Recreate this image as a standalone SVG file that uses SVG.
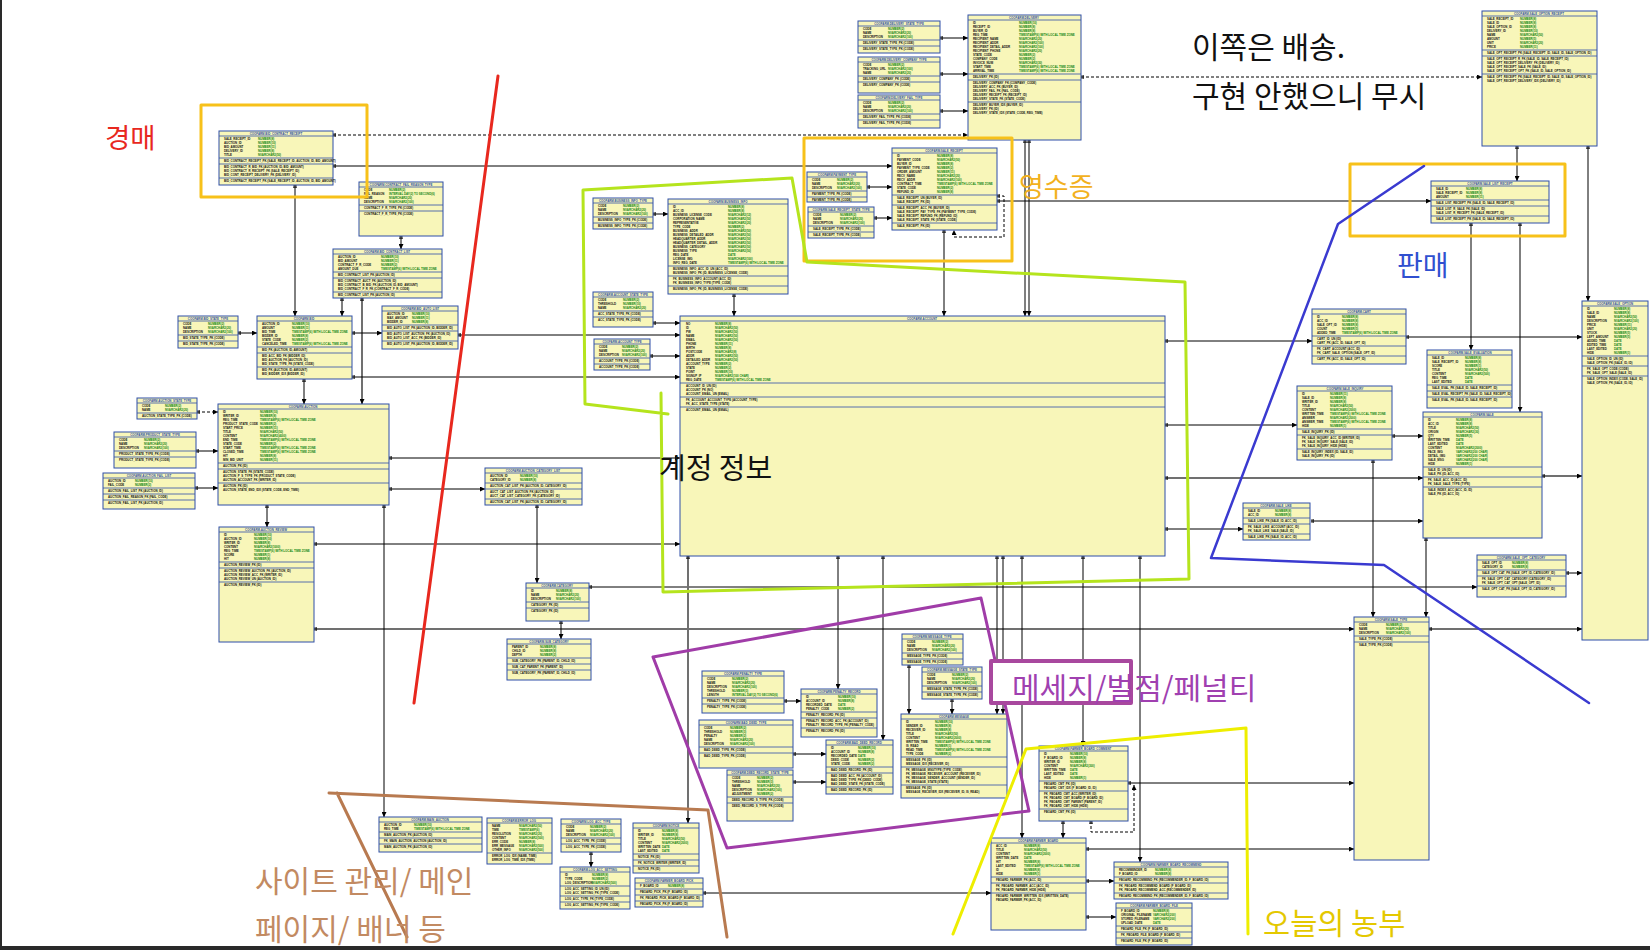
<svg xmlns="http://www.w3.org/2000/svg" width="1650" height="950" viewBox="0 0 1650 950">
<defs>
<style>
.t{fill:#f8f6b9;stroke:#2f4fa8;stroke-width:1}
.s{stroke:#2f4fa8;stroke-width:.8;fill:none}
.h,.c,.y{font-family:"Liberation Sans",Arial,sans-serif;font-size:2.9px;font-weight:bold}
.h{fill:#2f4fa8;text-anchor:middle}
.c{fill:#111}
.y{fill:#138513}
.k{stroke:#000;stroke-width:1;fill:none;marker-end:url(#a);marker-start:url(#b)}
.g{stroke:#707070;stroke-width:2;fill:none;marker-end:url(#a);marker-start:url(#b)}
.d{stroke:#000;stroke-width:1;fill:none;stroke-dasharray:3 2;marker-end:url(#a);marker-start:url(#b)}
.lab{font-family:"Noto Sans CJK KR","Noto Sans",sans-serif}
</style>
<marker id="a" viewBox="0 0 6 6" refX="6" refY="3" markerWidth="5" markerHeight="5" markerUnits="userSpaceOnUse" orient="auto"><path d="M0,0L6,3L0,6z" fill="#000"/></marker>
<marker id="b" viewBox="0 0 6 6" refX="0" refY="3" markerWidth="4" markerHeight="4" markerUnits="userSpaceOnUse" orient="auto"><path d="M1.5,0V6M3.5,0V6" stroke="#000" stroke-width="1.2"/></marker>
</defs>
<rect width="1650" height="950" fill="#fff"/>

<g id="connectors">
<path class="d" d="M333 135H968"/>
<path class="k" d="M333 166H892"/>
<path class="k" d="M295 185V316"/>
<path class="k" d="M401 236V249"/>
<path class="k" d="M342 298V316"/>
<path class="g" d="M362 298V404"/>
<path class="k" d="M304 379V404"/>
<path class="k" d="M238 333H257"/>
<path class="k" d="M352 333H382"/>
<path class="k" d="M458 335H680"/>
<path class="k" d="M352 377H680"/>
<path class="k" d="M653 323H680"/>
<path class="k" d="M650 356H680"/>
<path class="k" d="M389 458H680"/>
<path class="k" d="M314 544H680"/>
<path class="k" d="M734 294V316"/>
<path class="k" d="M653 214H668"/>
<path class="k" d="M867 187H892"/>
<path class="k" d="M874 218H892"/>
<path class="k" d="M944 230V316"/>
<path class="k" d="M1025 140V316"/>
<path class="k" d="M1029 140V316"/>
<path class="k" d="M940 38H968"/>
<path class="k" d="M940 74H968"/>
<path class="k" d="M940 111H968"/>
<path class="d" d="M1081 77H1482"/>
<path class="k" d="M997 201H1431"/>
<path class="d" d="M997 196H1004V237H954V230"/>
<path class="k" d="M1165 341H1312"/>
<path class="k" d="M1406 337H1582"/>
<path class="k" d="M1165 425H1297"/>
<path class="g" d="M1165 478H1423"/>
<path class="g" d="M1542 476H1582"/>
<path class="k" d="M1165 529H1243"/>
<path class="k" d="M1311 521H1423"/>
<path class="k" d="M1392 436H1423"/>
<path class="k" d="M1471 223V350"/>
<path class="k" d="M1517 146V181"/>
<path class="k" d="M1520 223V412"/>
<path class="k" d="M1588 146V301"/>
<path class="k" d="M1373 460V617"/>
<path class="k" d="M1426 538V617"/>
<path class="k" d="M1566 573H1582"/>
<path class="g" d="M314 629H1354"/>
<path class="g" d="M1429 629H1582"/>
<path class="k" d="M589 587H1477"/>
<path class="g" d="M688 556V823"/>
<path class="k" d="M838 556V689"/>
<path class="k" d="M883 556V740"/>
<path class="k" d="M997 556V714"/>
<path class="k" d="M1003 556V714"/>
<path class="k" d="M1022 556V838"/>
<path class="k" d="M1083 556V746"/>
<path class="k" d="M1140 556V862"/>
<path class="k" d="M1063 821V838"/>
<path class="d" d="M1091 821V832H1134V785"/>
<path class="k" d="M1128 783H1354"/>
<path class="k" d="M1086 849H1354"/>
<path class="k" d="M1086 881H1114"/>
<path class="k" d="M1086 917H1116"/>
<path class="k" d="M703 893H991"/>
<path class="k" d="M591 852V867"/>
<path class="k" d="M909 665V714"/>
<path class="k" d="M952 699V714"/>
<path class="k" d="M784 701H801"/>
<path class="k" d="M793 754H826"/>
<path class="k" d="M793 782H826"/>
<path class="k" d="M384 505V817"/>
<path class="k" d="M267 505V527"/>
<path class="d" d="M197 412H218"/>
<path class="k" d="M196 451H218"/>
<path class="k" d="M195 488H218"/>
<path class="k" d="M389 489H485"/>
<path class="k" d="M537 505V583"/>
<path class="k" d="M561 621V639"/>
</g>

<g id="t-bid-contract-receipt">
<rect class="t" x="219" y="131" width="114" height="54"/>
<path class="s" d="M219 136h114M219 158h114M219 164h114M219 178h114"/>
<text class="h" x="276" y="135">COOFARM.BID_CONTRACT_RECEIPT</text>
<text class="c" x="224" y="140">SALE_RECEIPT_ID<tspan x="224" dy="4">AUCTION_ID</tspan><tspan x="224" dy="4">BID_AMOUNT</tspan><tspan x="224" dy="4">DELIVERY_ID</tspan><tspan x="224" dy="4">TITLE</tspan></text>
<text class="y" x="258" y="140">NUMBER(8)<tspan x="258" dy="4">NUMBER(10)</tspan><tspan x="258" dy="4">NUMBER(11)</tspan><tspan x="258" dy="4">NUMBER(8)</tspan><tspan x="258" dy="4">NVARCHAR2(50)</tspan></text>
<text class="c" x="224" y="162">BID_CONTRACT_RECEIPT_PK (SALE_RECEIPT_ID, AUCTION_ID, BID_AMOUNT)</text>
<text class="c" x="224" y="168">BID_CONTRACT_R_BID_FK (AUCTION_ID, BID_AMOUNT)<tspan x="224" dy="4">BID_CONTRACT_R_RECEIPT_FK (SALE_RECEIPT_ID)</tspan><tspan x="224" dy="4">BID_CONT_RECEIPT_DELIVERY_FK (DELIVERY_ID)</tspan></text>
<text class="c" x="224" y="182">BID_CONTRACT_RECEIPT_PK (SALE_RECEIPT_ID, AUCTION_ID, BID_AMOUNT)</text>
</g>

<g id="t-contract-fail-reason-type">
<rect class="t" x="359" y="182" width="84" height="54"/>
<path class="s" d="M359 187h84M359 205h84M359 211h84"/>
<text class="h" x="401" y="186">COOFARM.CONTRACT_FAIL_REASON_TYPE</text>
<text class="c" x="364" y="191">CODE<tspan x="364" dy="4">FAIL_REASON</tspan><tspan x="364" dy="4">NAME</tspan><tspan x="364" dy="4">DESCRIPTION</tspan></text>
<text class="y" x="389" y="191">NUMBER(2)<tspan x="389" dy="4">INTERVAL DAY(2) TO SECOND(6)</tspan><tspan x="389" dy="4">NVARCHAR2(20)</tspan><tspan x="389" dy="4">NVARCHAR2(100)</tspan></text>
<text class="c" x="364" y="209">CONTRACT_F_R_TYPE_PK (CODE)</text>
<text class="c" x="364" y="215">CONTRACT_F_R_TYPE_PK (CODE)</text>
</g>

<g id="t-bid-contract-list">
<rect class="t" x="333" y="249" width="109" height="49"/>
<path class="s" d="M333 254h109M333 272h109M333 278h109M333 292h109"/>
<text class="h" x="387" y="253">COOFARM.BID_CONTRACT_LIST</text>
<text class="c" x="338" y="258">AUCTION_ID<tspan x="338" dy="4">BID_AMOUNT</tspan><tspan x="338" dy="4">CONTRACT_F_R_CODE</tspan><tspan x="338" dy="4">AMOUNT_DUE</tspan></text>
<text class="y" x="381" y="258">NUMBER(10)<tspan x="381" dy="4">NUMBER(11)</tspan><tspan x="381" dy="4">NUMBER(2)</tspan><tspan x="381" dy="4">TIMESTAMP(6) WITH LOCAL TIME ZONE</tspan></text>
<text class="c" x="338" y="276">BID_CONTRACT_LIST_PK (AUCTION_ID)</text>
<text class="c" x="338" y="282">BID_CONTRACT_AUCT_FK (AUCTION_ID)<tspan x="338" dy="4">BID_CONTRACT_B_BID_FK (AUCTION_ID, BID_AMOUNT)</tspan><tspan x="338" dy="4">BID_CONTRACT_F_R_FK (CONTRACT_F_R_CODE)</tspan></text>
<text class="c" x="338" y="296">BID_CONTRACT_LIST_PK (AUCTION_ID)</text>
</g>

<g id="t-bid-state-type">
<rect class="t" x="178" y="316" width="60" height="32"/>
<path class="s" d="M178 321h60M178 335h60M178 341h60"/>
<text class="h" x="208" y="320">COOFARM.BID_STATE_TYPE</text>
<text class="c" x="183" y="325">CODE<tspan x="183" dy="4">NAME</tspan><tspan x="183" dy="4">DESCRIPTION</tspan></text>
<text class="y" x="208" y="325">NUMBER(2)<tspan x="208" dy="4">NVARCHAR2(20)</tspan><tspan x="208" dy="4">NVARCHAR2(100)</tspan></text>
<text class="c" x="183" y="339">BID_STATE_TYPE_PK (CODE)</text>
<text class="c" x="183" y="345">BID_STATE_TYPE_PK (CODE)</text>
</g>

<g id="t-bid">
<rect class="t" x="257" y="316" width="95" height="63"/>
<path class="s" d="M257 321h95M257 347h95M257 353h95M257 367h95"/>
<text class="h" x="304" y="320">COOFARM.BID</text>
<text class="c" x="262" y="325">AUCTION_ID<tspan x="262" dy="4">AMOUNT</tspan><tspan x="262" dy="4">BID_TIME</tspan><tspan x="262" dy="4">BIDDER_ID</tspan><tspan x="262" dy="4">STATE_CODE</tspan><tspan x="262" dy="4">CANCELED_TIME</tspan></text>
<text class="y" x="292" y="325">NUMBER(10)<tspan x="292" dy="4">NUMBER(11)</tspan><tspan x="292" dy="4">TIMESTAMP(6) WITH LOCAL TIME ZONE</tspan><tspan x="292" dy="4">NUMBER(8)</tspan><tspan x="292" dy="4">NUMBER(2)</tspan><tspan x="292" dy="4">TIMESTAMP(6) WITH LOCAL TIME ZONE</tspan></text>
<text class="c" x="262" y="351">BID_PK (AUCTION_ID, AMOUNT)</text>
<text class="c" x="262" y="357">BID_ACC_BID_FK (BIDDER_ID)<tspan x="262" dy="4">BID_AUCTION_FK (AUCTION_ID)</tspan><tspan x="262" dy="4">BID_STATE_TYPE_FK (STATE_CODE)</tspan></text>
<text class="c" x="262" y="371">BID_PK (AUCTION_ID, AMOUNT)<tspan x="262" dy="4">BID_BIDDER_IDX (BIDDER_ID)</tspan></text>
</g>

<g id="t-bid-auto-list">
<rect class="t" x="382" y="306" width="76" height="43"/>
<path class="s" d="M382 311h76M382 325h76M382 331h76M382 341h76"/>
<text class="h" x="420" y="310">COOFARM.BID_AUTO_LIST</text>
<text class="c" x="387" y="315">AUCTION_ID<tspan x="387" dy="4">MAX_AMOUNT</tspan><tspan x="387" dy="4">BIDDER_ID</tspan></text>
<text class="y" x="412" y="315">NUMBER(10)<tspan x="412" dy="4">NUMBER(11)</tspan><tspan x="412" dy="4">NUMBER(8)</tspan></text>
<text class="c" x="387" y="329">BID_AUTO_LIST_PK (AUCTION_ID, BIDDER_ID)</text>
<text class="c" x="387" y="335">BID_AUTO_LIST_AUCTION_FK (AUCTION_ID)<tspan x="387" dy="4">BID_AUTO_LIST_ACC_FK (BIDDER_ID)</tspan></text>
<text class="c" x="387" y="345">BID_AUTO_LIST_PK (AUCTION_ID, BIDDER_ID)</text>
</g>

<g id="t-auction">
<rect class="t" x="218" y="404" width="171" height="101"/>
<path class="s" d="M218 409h171M218 463h171M218 469h171M218 483h171"/>
<text class="h" x="303" y="408">COOFARM.AUCTION</text>
<text class="c" x="223" y="413">ID<tspan x="223" dy="4">WRITER_ID</tspan><tspan x="223" dy="4">REG_TIME</tspan><tspan x="223" dy="4">PRODUCT_STATE_CODE</tspan><tspan x="223" dy="4">START_PRICE</tspan><tspan x="223" dy="4">TITLE</tspan><tspan x="223" dy="4">CONTENT</tspan><tspan x="223" dy="4">END_TIME</tspan><tspan x="223" dy="4">STATE_CODE</tspan><tspan x="223" dy="4">START_TIME</tspan><tspan x="223" dy="4">CLOSED_TIME</tspan><tspan x="223" dy="4">HIT</tspan><tspan x="223" dy="4">MIN_BID_UNIT</tspan></text>
<text class="y" x="260" y="413">NUMBER(10)<tspan x="260" dy="4">NUMBER(8)</tspan><tspan x="260" dy="4">TIMESTAMP(6) WITH LOCAL TIME ZONE</tspan><tspan x="260" dy="4">NUMBER(2)</tspan><tspan x="260" dy="4">NUMBER(11)</tspan><tspan x="260" dy="4">NVARCHAR2(50)</tspan><tspan x="260" dy="4">NVARCHAR2(4000)</tspan><tspan x="260" dy="4">TIMESTAMP(6) WITH LOCAL TIME ZONE</tspan><tspan x="260" dy="4">NUMBER(2)</tspan><tspan x="260" dy="4">TIMESTAMP(6) WITH LOCAL TIME ZONE</tspan><tspan x="260" dy="4">TIMESTAMP(6) WITH LOCAL TIME ZONE</tspan><tspan x="260" dy="4">NUMBER(8)</tspan><tspan x="260" dy="4">NUMBER(11)</tspan></text>
<text class="c" x="223" y="467">AUCTION_PK (ID)</text>
<text class="c" x="223" y="473">AUCTION_STATE_FK (STATE_CODE)<tspan x="223" dy="4">AUCTION_P_S_TYPE_FK (PRODUCT_STATE_CODE)</tspan><tspan x="223" dy="4">AUCTION_ACCOUNT_FK (WRITER_ID)</tspan></text>
<text class="c" x="223" y="487">AUCTION_PK (ID)<tspan x="223" dy="4">AUCTION_STATE_END_IDX (STATE_CODE, END_TIME)</tspan></text>
</g>

<g id="t-auction-state-type">
<rect class="t" x="137" y="398" width="60" height="21"/>
<path class="s" d="M137 403h60M137 413h60"/>
<text class="h" x="167" y="402">COOFARM.AUCTION_STATE_TYPE</text>
<text class="c" x="142" y="407">CODE<tspan x="142" dy="4">NAME</tspan></text>
<text class="y" x="165" y="407">NUMBER(2)<tspan x="165" dy="4">NVARCHAR2(20)</tspan></text>
<text class="c" x="142" y="417">AUCTION_STATE_TYPE_PK (CODE)</text>
</g>

<g id="t-product-state-type">
<rect class="t" x="114" y="432" width="82" height="36"/>
<path class="s" d="M114 437h82M114 451h82M114 457h82"/>
<text class="h" x="155" y="436">COOFARM.PRODUCT_STATE_TYPE</text>
<text class="c" x="119" y="441">CODE<tspan x="119" dy="4">NAME</tspan><tspan x="119" dy="4">DESCRIPTION</tspan></text>
<text class="y" x="144" y="441">NUMBER(2)<tspan x="144" dy="4">NVARCHAR2(20)</tspan><tspan x="144" dy="4">NVARCHAR2(100)</tspan></text>
<text class="c" x="119" y="455">PRODUCT_STATE_TYPE_PK (CODE)</text>
<text class="c" x="119" y="461">PRODUCT_STATE_TYPE_PK (CODE)</text>
</g>

<g id="t-auction-fail-list">
<rect class="t" x="103" y="473" width="92" height="36"/>
<path class="s" d="M103 478h92M103 488h92M103 494h92M103 500h92"/>
<text class="h" x="149" y="477">COOFARM.AUCTION_FAIL_LIST</text>
<text class="c" x="108" y="482">AUCTION_ID<tspan x="108" dy="4">FAIL_CODE</tspan></text>
<text class="y" x="135" y="482">NUMBER(10)<tspan x="135" dy="4">NUMBER(2)</tspan></text>
<text class="c" x="108" y="492">AUCTION_FAIL_LIST_PK (AUCTION_ID)</text>
<text class="c" x="108" y="498">AUCTION_FAIL_REASON_FK (FAIL_CODE)</text>
<text class="c" x="108" y="504">AUCTION_FAIL_LIST_PK (AUCTION_ID)</text>
</g>

<g id="t-auction-review">
<rect class="t" x="219" y="527" width="95" height="115"/>
<path class="s" d="M219 532h95M219 562h95M219 568h95M219 582h95"/>
<text class="h" x="266" y="531">COOFARM.AUCTION_REVIEW</text>
<text class="c" x="224" y="536">ID<tspan x="224" dy="4">AUCTION_ID</tspan><tspan x="224" dy="4">WRITER_ID</tspan><tspan x="224" dy="4">CONTENT</tspan><tspan x="224" dy="4">REG_TIME</tspan><tspan x="224" dy="4">SCORE</tspan><tspan x="224" dy="4">HIT</tspan></text>
<text class="y" x="254" y="536">NUMBER(10)<tspan x="254" dy="4">NUMBER(10)</tspan><tspan x="254" dy="4">NUMBER(8)</tspan><tspan x="254" dy="4">NVARCHAR2(1000)</tspan><tspan x="254" dy="4">TIMESTAMP(6) WITH LOCAL TIME ZONE</tspan><tspan x="254" dy="4">NUMBER(1)</tspan><tspan x="254" dy="4">NUMBER(8)</tspan></text>
<text class="c" x="224" y="566">AUCTION_REVIEW_PK (ID)</text>
<text class="c" x="224" y="572">AUCTION_REVIEW_AUCTION_FK (AUCTION_ID)<tspan x="224" dy="4">AUCTION_REVIEW_ACC_FK (WRITER_ID)</tspan><tspan x="224" dy="4">AUCTION_REVIEW_UN (AUCTION_ID)</tspan></text>
<text class="c" x="224" y="586">AUCTION_REVIEW_PK (ID)</text>
</g>

<g id="t-auction-category-list">
<rect class="t" x="485" y="468" width="97" height="37"/>
<path class="s" d="M485 473h97M485 483h97M485 489h97M485 499h97"/>
<text class="h" x="533" y="472">COOFARM.AUCTION_CATEGORY_LIST</text>
<text class="c" x="490" y="477">AUCTION_ID<tspan x="490" dy="4">CATEGORY_ID</tspan></text>
<text class="y" x="520" y="477">NUMBER(10)<tspan x="520" dy="4">NUMBER(8)</tspan></text>
<text class="c" x="490" y="487">AUCTION_CAT_LIST_PK (AUCTION_ID, CATEGORY_ID)</text>
<text class="c" x="490" y="493">AUCT_CAT_LIST_AUCTION_FK (AUCTION_ID)<tspan x="490" dy="4">AUCT_CAT_LIST_CATEGORY_FK (CATEGORY_ID)</tspan></text>
<text class="c" x="490" y="503">AUCTION_CAT_LIST_PK (AUCTION_ID, CATEGORY_ID)</text>
</g>

<g id="t-category">
<rect class="t" x="526" y="583" width="63" height="38"/>
<path class="s" d="M526 588h63M526 602h63M526 608h63"/>
<text class="h" x="557" y="587">COOFARM.CATEGORY</text>
<text class="c" x="531" y="592">ID<tspan x="531" dy="4">NAME</tspan><tspan x="531" dy="4">DESCRIPTION</tspan></text>
<text class="y" x="556" y="592">NUMBER(8)<tspan x="556" dy="4">NVARCHAR2(20)</tspan><tspan x="556" dy="4">NVARCHAR2(100)</tspan></text>
<text class="c" x="531" y="606">CATEGORY_PK (ID)</text>
<text class="c" x="531" y="612">CATEGORY_PK (ID)</text>
</g>

<g id="t-sub-category">
<rect class="t" x="507" y="639" width="84" height="41"/>
<path class="s" d="M507 644h84M507 658h84M507 664h84M507 670h84"/>
<text class="h" x="549" y="643">COOFARM.SUB_CATEGORY</text>
<text class="c" x="512" y="648">PARENT_ID<tspan x="512" dy="4">CHILD_ID</tspan><tspan x="512" dy="4">DEPTH</tspan></text>
<text class="y" x="540" y="648">NUMBER(8)<tspan x="540" dy="4">NUMBER(8)</tspan><tspan x="540" dy="4">NUMBER(2)</tspan></text>
<text class="c" x="512" y="662">SUB_CATEGORY_PK (PARENT_ID, CHILD_ID)</text>
<text class="c" x="512" y="668">SUB_CAT_PARENT_FK (PARENT_ID)</text>
<text class="c" x="512" y="674">SUB_CATEGORY_PK (PARENT_ID, CHILD_ID)</text>
</g>

<g id="t-business-info-type">
<rect class="t" x="593" y="198" width="60" height="31"/>
<path class="s" d="M593 203h60M593 217h60M593 223h60"/>
<text class="h" x="623" y="202">COOFARM.BUSINESS_INFO_TYPE</text>
<text class="c" x="598" y="207">CODE<tspan x="598" dy="4">NAME</tspan><tspan x="598" dy="4">DESCRIPTION</tspan></text>
<text class="y" x="623" y="207">NUMBER(2)<tspan x="623" dy="4">NVARCHAR2(20)</tspan><tspan x="623" dy="4">NVARCHAR2(100)</tspan></text>
<text class="c" x="598" y="221">BUSINESS_INFO_TYPE_PK (CODE)</text>
<text class="c" x="598" y="227">BUSINESS_INFO_TYPE_PK (CODE)</text>
</g>

<g id="t-business-info">
<rect class="t" x="668" y="199" width="120" height="95"/>
<path class="s" d="M668 204h120M668 266h120M668 276h120M668 286h120"/>
<text class="h" x="728" y="203">COOFARM.BUSINESS_INFO</text>
<text class="c" x="673" y="208">ID<tspan x="673" dy="4">ACC_ID</tspan><tspan x="673" dy="4">BUSINESS_LICENSE_CODE</tspan><tspan x="673" dy="4">CORPORATION_NAME</tspan><tspan x="673" dy="4">REPRESENTATIVE</tspan><tspan x="673" dy="4">TYPE_CODE</tspan><tspan x="673" dy="4">BUSINESS_ADDR</tspan><tspan x="673" dy="4">BUSINESS_DETAILED_ADDR</tspan><tspan x="673" dy="4">HEADQUARTER_ADDR</tspan><tspan x="673" dy="4">HEADQUARTER_DETAIL_ADDR</tspan><tspan x="673" dy="4">BUSINESS_CATEGORY</tspan><tspan x="673" dy="4">BUSINESS_TYPE</tspan><tspan x="673" dy="4">REG_DATE</tspan><tspan x="673" dy="4">LICENSE_IMG</tspan><tspan x="673" dy="4">INFO_REG_DATE</tspan></text>
<text class="y" x="728" y="208">NUMBER(8)<tspan x="728" dy="4">NUMBER(8)</tspan><tspan x="728" dy="4">NVARCHAR2(12)</tspan><tspan x="728" dy="4">NVARCHAR2(50)</tspan><tspan x="728" dy="4">NVARCHAR2(20)</tspan><tspan x="728" dy="4">NUMBER(2)</tspan><tspan x="728" dy="4">NVARCHAR2(50)</tspan><tspan x="728" dy="4">NVARCHAR2(50)</tspan><tspan x="728" dy="4">NVARCHAR2(50)</tspan><tspan x="728" dy="4">NVARCHAR2(50)</tspan><tspan x="728" dy="4">NVARCHAR2(50)</tspan><tspan x="728" dy="4">NVARCHAR2(50)</tspan><tspan x="728" dy="4">DATE</tspan><tspan x="728" dy="4">NVARCHAR2(100)</tspan><tspan x="728" dy="4">TIMESTAMP(6) WITH LOCAL TIME ZONE</tspan></text>
<text class="c" x="673" y="270">BUSINESS_INFO_ACC_ID_UN (ACC_ID)<tspan x="673" dy="4">BUSINESS_INFO_PK (ID, BUSINESS_LICENSE_CODE)</tspan></text>
<text class="c" x="673" y="280">FK_BUSINESS_INFO_ACCOUNT (ACC_ID)<tspan x="673" dy="4">FK_BUSINESS_INFO_TYPE (TYPE_CODE)</tspan></text>
<text class="c" x="673" y="290">BUSINESS_INFO_PK (ID, BUSINESS_LICENSE_CODE)</text>
</g>

<g id="t-account-state-type">
<rect class="t" x="593" y="292" width="60" height="35"/>
<path class="s" d="M593 297h60M593 311h60M593 317h60"/>
<text class="h" x="623" y="296">COOFARM.ACCOUNT_STATE_TYPE</text>
<text class="c" x="598" y="301">CODE<tspan x="598" dy="4">THRESHOLD</tspan><tspan x="598" dy="4">NAME</tspan></text>
<text class="y" x="623" y="301">NUMBER(2)<tspan x="623" dy="4">NUMBER(10)</tspan><tspan x="623" dy="4">NVARCHAR2(20)</tspan></text>
<text class="c" x="598" y="315">ACC_STATE_TYPE_PK (CODE)</text>
<text class="c" x="598" y="321">ACC_STATE_TYPE_PK (CODE)</text>
</g>

<g id="t-account-type">
<rect class="t" x="594" y="339" width="56" height="31"/>
<path class="s" d="M594 344h56M594 358h56M594 364h56"/>
<text class="h" x="622" y="343">COOFARM.ACCOUNT_TYPE</text>
<text class="c" x="599" y="348">CODE<tspan x="599" dy="4">NAME</tspan><tspan x="599" dy="4">DESCRIPTION</tspan></text>
<text class="y" x="622" y="348">NUMBER(2)<tspan x="622" dy="4">NVARCHAR2(20)</tspan><tspan x="622" dy="4">NVARCHAR2(100)</tspan></text>
<text class="c" x="599" y="362">ACCOUNT_TYPE_PK (CODE)</text>
<text class="c" x="599" y="368">ACCOUNT_TYPE_PK (CODE)</text>
</g>

<g id="t-payment-type">
<rect class="t" x="807" y="172" width="60" height="30"/>
<path class="s" d="M807 177h60M807 191h60M807 197h60"/>
<text class="h" x="837" y="176">COOFARM.PAYMENT_TYPE</text>
<text class="c" x="812" y="181">CODE<tspan x="812" dy="4">NAME</tspan><tspan x="812" dy="4">DESCRIPTION</tspan></text>
<text class="y" x="837" y="181">NUMBER(2)<tspan x="837" dy="4">NVARCHAR2(20)</tspan><tspan x="837" dy="4">NVARCHAR2(100)</tspan></text>
<text class="c" x="812" y="195">PAYMENT_TYPE_PK (CODE)</text>
<text class="c" x="812" y="201">PAYMENT_TYPE_PK (CODE)</text>
</g>

<g id="t-sale-receipt-state-type">
<rect class="t" x="808" y="207" width="66" height="31"/>
<path class="s" d="M808 212h66M808 226h66M808 232h66"/>
<text class="h" x="841" y="211">COOFARM.SALE_RECEIPT_STATE_TYPE</text>
<text class="c" x="813" y="216">CODE<tspan x="813" dy="4">NAME</tspan><tspan x="813" dy="4">DESCRIPTION</tspan></text>
<text class="y" x="840" y="216">NUMBER(2)<tspan x="840" dy="4">NVARCHAR2(20)</tspan><tspan x="840" dy="4">NVARCHAR2(100)</tspan></text>
<text class="c" x="813" y="230">SALE_RECEIPT_TYPE_PK (CODE)</text>
<text class="c" x="813" y="236">SALE_RECEIPT_TYPE_PK (CODE)</text>
</g>

<g id="t-sale-receipt">
<rect class="t" x="892" y="148" width="105" height="82"/>
<path class="s" d="M892 153h105M892 195h105M892 205h105M892 223h105"/>
<text class="h" x="944" y="152">COOFARM.SALE_RECEIPT</text>
<text class="c" x="897" y="157">ID<tspan x="897" dy="4">PAYMENT_CODE</tspan><tspan x="897" dy="4">BUYER_ID</tspan><tspan x="897" dy="4">PAYMENT_TYPE_CODE</tspan><tspan x="897" dy="4">ORDER_AMOUNT</tspan><tspan x="897" dy="4">RECV_NAME</tspan><tspan x="897" dy="4">RECV_ADDR</tspan><tspan x="897" dy="4">CONTRACT_TIME</tspan><tspan x="897" dy="4">STATE_CODE</tspan><tspan x="897" dy="4">REFUND_ID</tspan></text>
<text class="y" x="937" y="157">NUMBER(8)<tspan x="937" dy="4">NVARCHAR2(50)</tspan><tspan x="937" dy="4">NUMBER(8)</tspan><tspan x="937" dy="4">NUMBER(2)</tspan><tspan x="937" dy="4">NUMBER(11)</tspan><tspan x="937" dy="4">NVARCHAR2(20)</tspan><tspan x="937" dy="4">NVARCHAR2(100)</tspan><tspan x="937" dy="4">TIMESTAMP(6) WITH LOCAL TIME ZONE</tspan><tspan x="937" dy="4">NUMBER(2)</tspan><tspan x="937" dy="4">NUMBER(8)</tspan></text>
<text class="c" x="897" y="199">SALE_RECEIPT_UN (BUYER_ID)<tspan x="897" dy="4">SALE_RECEIPT_PK (ID)</tspan></text>
<text class="c" x="897" y="209">SALE_RECEIPT_ACC_FK (BUYER_ID)<tspan x="897" dy="4">SALE_RECEIPT_PAY_TYPE_FK (PAYMENT_TYPE_CODE)</tspan><tspan x="897" dy="4">SALE_RECEIPT_REFUND_FK (REFUND_ID)</tspan><tspan x="897" dy="4">SALE_RECEIPT_STATE_FK (STATE_CODE)</tspan></text>
<text class="c" x="897" y="227">SALE_RECEIPT_PK (ID)</text>
</g>

<g id="t-account">
<rect class="t" x="680" y="316" width="485" height="240"/>
<path class="s" d="M680 321h485M680 383h485M680 397h485M680 407h485"/>
<text class="h" x="922" y="320">COOFARM.ACCOUNT</text>
<text class="c" x="686" y="325">NO<tspan x="686" dy="4">ID</tspan><tspan x="686" dy="4">PW</tspan><tspan x="686" dy="4">NAME</tspan><tspan x="686" dy="4">EMAIL</tspan><tspan x="686" dy="4">PHONE</tspan><tspan x="686" dy="4">BIRTH</tspan><tspan x="686" dy="4">POSTCODE</tspan><tspan x="686" dy="4">ADDR</tspan><tspan x="686" dy="4">DETAILED_ADDR</tspan><tspan x="686" dy="4">ACCOUNT_TYPE</tspan><tspan x="686" dy="4">STATE</tspan><tspan x="686" dy="4">POINT</tspan><tspan x="686" dy="4">SIGNUP_IP</tspan><tspan x="686" dy="4">REG_DATE</tspan></text>
<text class="y" x="715" y="325">NUMBER(8)<tspan x="715" dy="4">NVARCHAR2(50)</tspan><tspan x="715" dy="4">NVARCHAR2(50)</tspan><tspan x="715" dy="4">NVARCHAR2(50)</tspan><tspan x="715" dy="4">NVARCHAR2(50)</tspan><tspan x="715" dy="4">NUMBER(11)</tspan><tspan x="715" dy="4">NUMBER(8)</tspan><tspan x="715" dy="4">NVARCHAR2(8)</tspan><tspan x="715" dy="4">NVARCHAR2(50)</tspan><tspan x="715" dy="4">NVARCHAR2(50)</tspan><tspan x="715" dy="4">NUMBER(2)</tspan><tspan x="715" dy="4">NUMBER(2)</tspan><tspan x="715" dy="4">NUMBER(10)</tspan><tspan x="715" dy="4">NVARCHAR2(100 CHAR)</tspan><tspan x="715" dy="4">TIMESTAMP(6) WITH LOCAL TIME ZONE</tspan></text>
<text class="c" x="686" y="387">ACCOUNT_ID_UN (ID)<tspan x="686" dy="4">ACCOUNT_PK (NO)</tspan><tspan x="686" dy="4">ACCOUNT_EMAIL_UN (EMAIL)</tspan></text>
<text class="c" x="686" y="401">FK_ACCOUNT_ACCOUNT_TYPE (ACCOUNT_TYPE)<tspan x="686" dy="4">FK_ACC_STATE_TYPE (STATE)</tspan></text>
<text class="c" x="686" y="411">ACCOUNT_EMAIL_UN (EMAIL)</text>
</g>

<g id="t-delivery-state-type">
<rect class="t" x="858" y="21" width="82" height="32"/>
<path class="s" d="M858 26h82M858 40h82M858 46h82"/>
<text class="h" x="899" y="25">COOFARM.DELIVERY_STATE_TYPE</text>
<text class="c" x="863" y="30">CODE<tspan x="863" dy="4">NAME</tspan><tspan x="863" dy="4">DESCRIPTION</tspan></text>
<text class="y" x="888" y="30">NUMBER(2)<tspan x="888" dy="4">NVARCHAR2(20)</tspan><tspan x="888" dy="4">NVARCHAR2(100)</tspan></text>
<text class="c" x="863" y="44">DELIVERY_STATE_TYPE_PK (CODE)</text>
<text class="c" x="863" y="50">DELIVERY_STATE_TYPE_PK (CODE)</text>
</g>

<g id="t-delivery-company-type">
<rect class="t" x="858" y="57" width="82" height="36"/>
<path class="s" d="M858 62h82M858 76h82M858 82h82"/>
<text class="h" x="899" y="61">COOFARM.DELIVERY_COMPANY_TYPE</text>
<text class="c" x="863" y="66">CODE<tspan x="863" dy="4">TRACKING_URL</tspan><tspan x="863" dy="4">NAME</tspan></text>
<text class="y" x="888" y="66">NUMBER(2)<tspan x="888" dy="4">NVARCHAR2(100)</tspan><tspan x="888" dy="4">NVARCHAR2(20)</tspan></text>
<text class="c" x="863" y="80">DELIVERY_COMPANY_PK (CODE)</text>
<text class="c" x="863" y="86">DELIVERY_COMPANY_PK (CODE)</text>
</g>

<g id="t-delivery-fail-type">
<rect class="t" x="858" y="95" width="82" height="33"/>
<path class="s" d="M858 100h82M858 114h82M858 120h82"/>
<text class="h" x="899" y="99">COOFARM.DELIVERY_FAIL_TYPE</text>
<text class="c" x="863" y="104">CODE<tspan x="863" dy="4">NAME</tspan><tspan x="863" dy="4">DESCRIPTION</tspan></text>
<text class="y" x="888" y="104">NUMBER(2)<tspan x="888" dy="4">NVARCHAR2(20)</tspan><tspan x="888" dy="4">NVARCHAR2(100)</tspan></text>
<text class="c" x="863" y="118">DELIVERY_FAIL_TYPE_PK (CODE)</text>
<text class="c" x="863" y="124">DELIVERY_FAIL_TYPE_PK (CODE)</text>
</g>

<g id="t-delivery">
<rect class="t" x="968" y="15" width="113" height="125"/>
<path class="s" d="M968 20h113M968 74h113M968 80h113M968 102h113"/>
<text class="h" x="1024" y="19">COOFARM.DELIVERY</text>
<text class="c" x="973" y="24">ID<tspan x="973" dy="4">RECEIPT_ID</tspan><tspan x="973" dy="4">BUYER_ID</tspan><tspan x="973" dy="4">REG_TIME</tspan><tspan x="973" dy="4">RECIPIENT_NAME</tspan><tspan x="973" dy="4">RECIPIENT_ADDR</tspan><tspan x="973" dy="4">RECIPIENT_DETAIL_ADDR</tspan><tspan x="973" dy="4">RECIPIENT_PHONE</tspan><tspan x="973" dy="4">STATE_CODE</tspan><tspan x="973" dy="4">COMPANY_CODE</tspan><tspan x="973" dy="4">INVOICE_NUM</tspan><tspan x="973" dy="4">START_TIME</tspan><tspan x="973" dy="4">ARRIVAL_TIME</tspan></text>
<text class="y" x="1019" y="24">NUMBER(10)<tspan x="1019" dy="4">NUMBER(8)</tspan><tspan x="1019" dy="4">NUMBER(8)</tspan><tspan x="1019" dy="4">TIMESTAMP(6) WITH LOCAL TIME ZONE</tspan><tspan x="1019" dy="4">NVARCHAR2(20)</tspan><tspan x="1019" dy="4">NVARCHAR2(100)</tspan><tspan x="1019" dy="4">NVARCHAR2(100)</tspan><tspan x="1019" dy="4">NVARCHAR2(20)</tspan><tspan x="1019" dy="4">NUMBER(2)</tspan><tspan x="1019" dy="4">NUMBER(2)</tspan><tspan x="1019" dy="4">NVARCHAR2(30)</tspan><tspan x="1019" dy="4">TIMESTAMP(6) WITH LOCAL TIME ZONE</tspan><tspan x="1019" dy="4">TIMESTAMP(6) WITH LOCAL TIME ZONE</tspan></text>
<text class="c" x="973" y="78">DELIVERY_PK (ID)</text>
<text class="c" x="973" y="84">DELIVERY_COMPANY_FK (COMPANY_CODE)<tspan x="973" dy="4">DELIVERY_ACC_FK (BUYER_ID)</tspan><tspan x="973" dy="4">DELIVERY_FAIL_FK (FAIL_CODE)</tspan><tspan x="973" dy="4">DELIVERY_RECEIPT_FK (RECEIPT_ID)</tspan><tspan x="973" dy="4">DELIVERY_STATE_FK (STATE_CODE)</tspan></text>
<text class="c" x="973" y="106">DELIVERY_BUYER_IDX (BUYER_ID)<tspan x="973" dy="4">DELIVERY_PK (ID)</tspan><tspan x="973" dy="4">DELIVERY_STATE_IDX (STATE_CODE, REG_TIME)</tspan></text>
</g>

<g id="t-sale-option-receipt">
<rect class="t" x="1482" y="11" width="115" height="135"/>
<path class="s" d="M1482 16h115M1482 50h115M1482 56h115M1482 74h115"/>
<text class="h" x="1539" y="15">COOFARM.SALE_OPTION_RECEIPT</text>
<text class="c" x="1487" y="20">SALE_RECEIPT_ID<tspan x="1487" dy="4">SALE_ID</tspan><tspan x="1487" dy="4">SALE_OPTION_ID</tspan><tspan x="1487" dy="4">DELIVERY_ID</tspan><tspan x="1487" dy="4">NAME</tspan><tspan x="1487" dy="4">AMOUNT</tspan><tspan x="1487" dy="4">UNIT</tspan><tspan x="1487" dy="4">PRICE</tspan></text>
<text class="y" x="1520" y="20">NUMBER(8)<tspan x="1520" dy="4">NUMBER(8)</tspan><tspan x="1520" dy="4">NUMBER(8)</tspan><tspan x="1520" dy="4">NUMBER(10)</tspan><tspan x="1520" dy="4">NVARCHAR2(50)</tspan><tspan x="1520" dy="4">NUMBER(5)</tspan><tspan x="1520" dy="4">NVARCHAR2(20)</tspan><tspan x="1520" dy="4">NUMBER(11)</tspan></text>
<text class="c" x="1487" y="54">SALE_OPT_RECEIPT_PK (SALE_RECEIPT_ID, SALE_ID, SALE_OPTION_ID)</text>
<text class="c" x="1487" y="60">SALE_OPT_RECEIPT_R_FK (SALE_ID, SALE_RECEIPT_ID)<tspan x="1487" dy="4">SALE_OPT_RECEIPT_DELIVERY_FK (DELIVERY_ID)</tspan><tspan x="1487" dy="4">SALE_OPT_RECEIPT_SALE_FK (SALE_ID)</tspan><tspan x="1487" dy="4">SALE_OPT_RECEIPT_OPT_FK (SALE_ID, SALE_OPTION_ID)</tspan></text>
<text class="c" x="1487" y="78">SALE_OPT_RECEIPT_PK (SALE_RECEIPT_ID, SALE_ID, SALE_OPTION_ID)<tspan x="1487" dy="4">SALE_OPT_RECEIPT_DELIVERY_IDX (DELIVERY_ID)</tspan></text>
</g>

<g id="t-sale-list-receipt">
<rect class="t" x="1431" y="181" width="118" height="42"/>
<path class="s" d="M1431 186h118M1431 200h118M1431 206h118M1431 216h118"/>
<text class="h" x="1490" y="185">COOFARM.SALE_LIST_RECEIPT</text>
<text class="c" x="1436" y="190">SALE_ID<tspan x="1436" dy="4">SALE_RECEIPT_ID</tspan><tspan x="1436" dy="4">AMOUNT</tspan></text>
<text class="y" x="1466" y="190">NUMBER(8)<tspan x="1466" dy="4">NUMBER(8)</tspan><tspan x="1466" dy="4">NUMBER(11)</tspan></text>
<text class="c" x="1436" y="204">SALE_LIST_RECEIPT_PK (SALE_ID, SALE_RECEIPT_ID)</text>
<text class="c" x="1436" y="210">SALE_LIST_R_SALE_FK (SALE_ID)<tspan x="1436" dy="4">SALE_LIST_R_RECEIPT_FK (SALE_RECEIPT_ID)</tspan></text>
<text class="c" x="1436" y="220">SALE_LIST_RECEIPT_PK (SALE_ID, SALE_RECEIPT_ID)</text>
</g>

<g id="t-cart">
<rect class="t" x="1312" y="309" width="94" height="55"/>
<path class="s" d="M1312 314h94M1312 336h94M1312 346h94M1312 356h94"/>
<text class="h" x="1359" y="313">COOFARM.CART</text>
<text class="c" x="1317" y="318">ID<tspan x="1317" dy="4">ACC_ID</tspan><tspan x="1317" dy="4">SALE_OPT_ID</tspan><tspan x="1317" dy="4">COUNT</tspan><tspan x="1317" dy="4">ADDED_TIME</tspan></text>
<text class="y" x="1342" y="318">NUMBER(8)<tspan x="1342" dy="4">NUMBER(8)</tspan><tspan x="1342" dy="4">NUMBER(8)</tspan><tspan x="1342" dy="4">NUMBER(5)</tspan><tspan x="1342" dy="4">TIMESTAMP(6) WITH LOCAL TIME ZONE</tspan></text>
<text class="c" x="1317" y="340">CART_ID_UN (ID)<tspan x="1317" dy="4">CART_PK (ACC_ID, SALE_OPT_ID)</tspan></text>
<text class="c" x="1317" y="350">FK_CART_ACCOUNT (ACC_ID)<tspan x="1317" dy="4">FK_CART_SALE_OPTION (SALE_OPT_ID)</tspan></text>
<text class="c" x="1317" y="360">CART_PK (ACC_ID, SALE_OPT_ID)</text>
</g>

<g id="t-sale-evaluation">
<rect class="t" x="1427" y="350" width="85" height="58"/>
<path class="s" d="M1427 355h85M1427 385h85M1427 391h85M1427 397h85"/>
<text class="h" x="1470" y="354">COOFARM.SALE_EVALUATION</text>
<text class="c" x="1432" y="359">SALE_ID<tspan x="1432" dy="4">SALE_RECEIPT_ID</tspan><tspan x="1432" dy="4">SCORE</tspan><tspan x="1432" dy="4">TITLE</tspan><tspan x="1432" dy="4">CONTENT</tspan><tspan x="1432" dy="4">REG_TIME</tspan><tspan x="1432" dy="4">LAST_EDITED</tspan></text>
<text class="y" x="1465" y="359">NUMBER(8)<tspan x="1465" dy="4">NUMBER(8)</tspan><tspan x="1465" dy="4">NUMBER(1)</tspan><tspan x="1465" dy="4">NVARCHAR2(50)</tspan><tspan x="1465" dy="4">NVARCHAR2(500)</tspan><tspan x="1465" dy="4">DATE</tspan><tspan x="1465" dy="4">DATE</tspan></text>
<text class="c" x="1432" y="389">SALE_EVAL_PK (SALE_ID, SALE_RECEIPT_ID)</text>
<text class="c" x="1432" y="395">SALE_EVAL_RECEIPT_FK (SALE_ID, SALE_RECEIPT_ID)</text>
<text class="c" x="1432" y="401">SALE_EVAL_PK (SALE_ID, SALE_RECEIPT_ID)</text>
</g>

<g id="t-sale-inquiry">
<rect class="t" x="1297" y="386" width="95" height="74"/>
<path class="s" d="M1297 391h95M1297 429h95M1297 435h95M1297 449h95"/>
<text class="h" x="1345" y="390">COOFARM.SALE_INQUIRY</text>
<text class="c" x="1302" y="395">ID<tspan x="1302" dy="4">SALE_ID</tspan><tspan x="1302" dy="4">WRITER_ID</tspan><tspan x="1302" dy="4">TITLE</tspan><tspan x="1302" dy="4">CONTENT</tspan><tspan x="1302" dy="4">WRITTEN_TIME</tspan><tspan x="1302" dy="4">ANSWER</tspan><tspan x="1302" dy="4">ANSWER_TIME</tspan><tspan x="1302" dy="4">HIDE</tspan></text>
<text class="y" x="1330" y="395">NUMBER(11)<tspan x="1330" dy="4">NUMBER(8)</tspan><tspan x="1330" dy="4">NUMBER(8)</tspan><tspan x="1330" dy="4">NVARCHAR2(50)</tspan><tspan x="1330" dy="4">NVARCHAR2(2000)</tspan><tspan x="1330" dy="4">TIMESTAMP(6) WITH LOCAL TIME ZONE</tspan><tspan x="1330" dy="4">NVARCHAR2(2000)</tspan><tspan x="1330" dy="4">TIMESTAMP(6) WITH LOCAL TIME ZONE</tspan><tspan x="1330" dy="4">NUMBER(1)</tspan></text>
<text class="c" x="1302" y="433">SALE_INQUIRY_PK (ID)</text>
<text class="c" x="1302" y="439">FK_SALE_INQUIRY_ACC_ID (WRITER_ID)<tspan x="1302" dy="4">FK_SALE_INQUIRY_SALE (SALE_ID)</tspan><tspan x="1302" dy="4">FK_SALE_INQUIRY_HIDE (HIDE)</tspan></text>
<text class="c" x="1302" y="453">SALE_INQUIRY_INDEX (ID, SALE_ID)<tspan x="1302" dy="4">SALE_INQUIRY_PK (ID)</tspan></text>
</g>

<g id="t-sale">
<rect class="t" x="1423" y="412" width="119" height="126"/>
<path class="s" d="M1423 417h119M1423 467h119M1423 477h119M1423 487h119"/>
<text class="h" x="1482" y="416">COOFARM.SALE</text>
<text class="c" x="1428" y="421">ID<tspan x="1428" dy="4">ACC_ID</tspan><tspan x="1428" dy="4">TITLE</tspan><tspan x="1428" dy="4">ORIGIN</tspan><tspan x="1428" dy="4">QTY</tspan><tspan x="1428" dy="4">WRITTEN_TIME</tspan><tspan x="1428" dy="4">LAST_EDITED</tspan><tspan x="1428" dy="4">CONTENT</tspan><tspan x="1428" dy="4">FACE_IMG</tspan><tspan x="1428" dy="4">DETAIL_IMG</tspan><tspan x="1428" dy="4">SALE_MSG</tspan><tspan x="1428" dy="4">HIDE</tspan></text>
<text class="y" x="1456" y="421">NUMBER(8)<tspan x="1456" dy="4">NUMBER(8)</tspan><tspan x="1456" dy="4">NVARCHAR2(50)</tspan><tspan x="1456" dy="4">NVARCHAR2(30)</tspan><tspan x="1456" dy="4">NUMBER(5)</tspan><tspan x="1456" dy="4">DATE</tspan><tspan x="1456" dy="4">DATE</tspan><tspan x="1456" dy="4">NVARCHAR2(2000)</tspan><tspan x="1456" dy="4">VARCHAR2(200 CHAR)</tspan><tspan x="1456" dy="4">VARCHAR2(200 CHAR)</tspan><tspan x="1456" dy="4">VARCHAR2(200 CHAR)</tspan><tspan x="1456" dy="4">NUMBER(1)</tspan></text>
<text class="c" x="1428" y="471">SALE_ID_UN (ID)<tspan x="1428" dy="4">SALE_PK (ID, ACC_ID)</tspan></text>
<text class="c" x="1428" y="481">FK_SALE_ACC_ID (ACC_ID)<tspan x="1428" dy="4">FK_SALE_SALE_TYPE (TYPE)</tspan></text>
<text class="c" x="1428" y="491">SALE_INDEX_ACC (ACC_ID, ID)<tspan x="1428" dy="4">SALE_PK (ID, ACC_ID)</tspan></text>
</g>

<g id="t-sale-option">
<rect class="t" x="1582" y="301" width="66" height="339"/>
<path class="s" d="M1582 306h66M1582 356h66M1582 366h66M1582 376h66"/>
<text class="h" x="1615" y="305">COOFARM.SALE_OPTION</text>
<text class="c" x="1587" y="310">ID<tspan x="1587" dy="4">SALE_ID</tspan><tspan x="1587" dy="4">NAME</tspan><tspan x="1587" dy="4">DESCRIPTION</tspan><tspan x="1587" dy="4">PRICE</tspan><tspan x="1587" dy="4">UNIT</tspan><tspan x="1587" dy="4">STOCK</tspan><tspan x="1587" dy="4">LEFT_AMOUNT</tspan><tspan x="1587" dy="4">ADDED_TIME</tspan><tspan x="1587" dy="4">EDITED_TIME</tspan><tspan x="1587" dy="4">LAST_EDITED</tspan><tspan x="1587" dy="4">HIDE</tspan></text>
<text class="y" x="1614" y="310">NUMBER(8)<tspan x="1614" dy="4">NUMBER(8)</tspan><tspan x="1614" dy="4">NVARCHAR2(50)</tspan><tspan x="1614" dy="4">NVARCHAR2(100)</tspan><tspan x="1614" dy="4">NUMBER(11)</tspan><tspan x="1614" dy="4">NVARCHAR2(20)</tspan><tspan x="1614" dy="4">NUMBER(5)</tspan><tspan x="1614" dy="4">NUMBER(5)</tspan><tspan x="1614" dy="4">DATE</tspan><tspan x="1614" dy="4">DATE</tspan><tspan x="1614" dy="4">DATE</tspan><tspan x="1614" dy="4">NUMBER(1)</tspan></text>
<text class="c" x="1587" y="360">SALE_OPTION_ID_UN (ID)<tspan x="1587" dy="4">SALE_OPTION_PK (SALE_ID, ID)</tspan></text>
<text class="c" x="1587" y="370">FK_SALE_OPT_CODE (CODE)<tspan x="1587" dy="4">FK_SALE_OPT_SALE (SALE_ID)</tspan></text>
<text class="c" x="1587" y="380">SALE_OPTION_INDEX (CODE, SALE_ID)<tspan x="1587" dy="4">SALE_OPTION_PK (SALE_ID, ID)</tspan></text>
</g>

<g id="t-sale-like">
<rect class="t" x="1243" y="503" width="67" height="37"/>
<path class="s" d="M1243 508h67M1243 518h67M1243 524h67M1243 534h67"/>
<text class="h" x="1276" y="507">COOFARM.SALE_LIKE</text>
<text class="c" x="1248" y="512">SALE_ID<tspan x="1248" dy="4">ACC_ID</tspan></text>
<text class="y" x="1275" y="512">NUMBER(8)<tspan x="1275" dy="4">NUMBER(8)</tspan></text>
<text class="c" x="1248" y="522">SALE_LIKE_PK (SALE_ID, ACC_ID)</text>
<text class="c" x="1248" y="528">FK_SALE_LIKE_ACCOUNT (ACC_ID)<tspan x="1248" dy="4">FK_SALE_LIKE_SALE (SALE_ID)</tspan></text>
<text class="c" x="1248" y="538">SALE_LIKE_PK (SALE_ID, ACC_ID)</text>
</g>

<g id="t-sale-opt-category">
<rect class="t" x="1477" y="555" width="89" height="42"/>
<path class="s" d="M1477 560h89M1477 570h89M1477 576h89M1477 586h89"/>
<text class="h" x="1521" y="559">COOFARM.SALE_OPT_CATEGORY</text>
<text class="c" x="1482" y="564">SALE_OPT_ID<tspan x="1482" dy="4">CATEGORY_ID</tspan></text>
<text class="y" x="1512" y="564">NUMBER(8)<tspan x="1512" dy="4">NUMBER(8)</tspan></text>
<text class="c" x="1482" y="574">SALE_OPT_CAT_PK (SALE_OPT_ID, CATEGORY_ID)</text>
<text class="c" x="1482" y="580">FK_SALE_OPT_CAT_CATEGORY (CATEGORY_ID)<tspan x="1482" dy="4">FK_SALE_OPT_CAT_OPT (SALE_OPT_ID)</tspan></text>
<text class="c" x="1482" y="590">SALE_OPT_CAT_PK (SALE_OPT_ID, CATEGORY_ID)</text>
</g>

<g id="t-sale-type">
<rect class="t" x="1354" y="617" width="75" height="243"/>
<path class="s" d="M1354 622h75M1354 636h75M1354 642h75"/>
<text class="h" x="1391" y="621">COOFARM.SALE_TYPE</text>
<text class="c" x="1359" y="626">CODE<tspan x="1359" dy="4">NAME</tspan><tspan x="1359" dy="4">DESCRIPTION</tspan></text>
<text class="y" x="1386" y="626">NUMBER(2)<tspan x="1386" dy="4">NVARCHAR2(20)</tspan><tspan x="1386" dy="4">NVARCHAR2(100)</tspan></text>
<text class="c" x="1359" y="640">SALE_TYPE_PK (CODE)</text>
<text class="c" x="1359" y="646">SALE_TYPE_PK (CODE)</text>
</g>

<g id="t-penalty-type">
<rect class="t" x="702" y="671" width="82" height="42"/>
<path class="s" d="M702 676h82M702 698h82M702 704h82"/>
<text class="h" x="743" y="675">COOFARM.PENALTY_TYPE</text>
<text class="c" x="707" y="680">CODE<tspan x="707" dy="4">NAME</tspan><tspan x="707" dy="4">DESCRIPTION</tspan><tspan x="707" dy="4">THRESHOLD</tspan><tspan x="707" dy="4">LENGTH</tspan></text>
<text class="y" x="732" y="680">NUMBER(2)<tspan x="732" dy="4">NVARCHAR2(20)</tspan><tspan x="732" dy="4">NVARCHAR2(100)</tspan><tspan x="732" dy="4">NUMBER(3)</tspan><tspan x="732" dy="4">INTERVAL DAY(2) TO SECOND(6)</tspan></text>
<text class="c" x="707" y="702">PENALTY_TYPE_PK (CODE)</text>
<text class="c" x="707" y="708">PENALTY_TYPE_PK (CODE)</text>
</g>

<g id="t-penalty-record">
<rect class="t" x="801" y="689" width="76" height="48"/>
<path class="s" d="M801 694h76M801 712h76M801 718h76M801 728h76"/>
<text class="h" x="839" y="693">COOFARM.PENALTY_RECORD</text>
<text class="c" x="806" y="698">ID<tspan x="806" dy="4">ACCOUNT_ID</tspan><tspan x="806" dy="4">RECORDED_DATE</tspan><tspan x="806" dy="4">PENALTY_CODE</tspan></text>
<text class="y" x="838" y="698">NUMBER(10)<tspan x="838" dy="4">NUMBER(8)</tspan><tspan x="838" dy="4">DATE</tspan><tspan x="838" dy="4">NUMBER(2)</tspan></text>
<text class="c" x="806" y="716">PENALTY_RECORD_PK (ID)</text>
<text class="c" x="806" y="722">PENALTY_RECORD_ACC_FK (ACCOUNT_ID)<tspan x="806" dy="4">PENALTY_RECORD_TYPE_FK (PENALTY_CODE)</tspan></text>
<text class="c" x="806" y="732">PENALTY_RECORD_PK (ID)</text>
</g>

<g id="t-bad-deed-type">
<rect class="t" x="699" y="720" width="94" height="48"/>
<path class="s" d="M699 725h94M699 747h94M699 753h94"/>
<text class="h" x="746" y="724">COOFARM.BAD_DEED_TYPE</text>
<text class="c" x="704" y="729">CODE<tspan x="704" dy="4">THRESHOLD</tspan><tspan x="704" dy="4">PENALTY</tspan><tspan x="704" dy="4">NAME</tspan><tspan x="704" dy="4">DESCRIPTION</tspan></text>
<text class="y" x="730" y="729">NUMBER(2)<tspan x="730" dy="4">NUMBER(3)</tspan><tspan x="730" dy="4">NUMBER(2)</tspan><tspan x="730" dy="4">NVARCHAR2(20)</tspan><tspan x="730" dy="4">NVARCHAR2(100)</tspan></text>
<text class="c" x="704" y="751">BAD_DEED_TYPE_PK (CODE)</text>
<text class="c" x="704" y="757">BAD_DEED_TYPE_PK (CODE)</text>
</g>

<g id="t-bad-deed-record">
<rect class="t" x="826" y="740" width="67" height="54"/>
<path class="s" d="M826 745h67M826 767h67M826 773h67M826 787h67"/>
<text class="h" x="859" y="744">COOFARM.BAD_DEED_RECORD</text>
<text class="c" x="831" y="749">ID<tspan x="831" dy="4">ACCOUNT_ID</tspan><tspan x="831" dy="4">RECORDED_DATE</tspan><tspan x="831" dy="4">DEED_CODE</tspan><tspan x="831" dy="4">STATE_CODE</tspan></text>
<text class="y" x="858" y="749">NUMBER(10)<tspan x="858" dy="4">NUMBER(8)</tspan><tspan x="858" dy="4">DATE</tspan><tspan x="858" dy="4">NUMBER(2)</tspan><tspan x="858" dy="4">NUMBER(2)</tspan></text>
<text class="c" x="831" y="771">BAD_DEED_RECORD_PK (ID)</text>
<text class="c" x="831" y="777">BAD_DEED_ACC_FK (ACCOUNT_ID)<tspan x="831" dy="4">BAD_DEED_TYPE_FK (DEED_CODE)</tspan><tspan x="831" dy="4">BAD_DEED_STATE_FK (STATE_CODE)</tspan></text>
<text class="c" x="831" y="791">BAD_DEED_RECORD_PK (ID)</text>
</g>

<g id="t-deed-record-state-type">
<rect class="t" x="727" y="770" width="66" height="51"/>
<path class="s" d="M727 775h66M727 797h66M727 803h66"/>
<text class="h" x="760" y="774">COOFARM.DEED_RECORD_STATE_TYPE</text>
<text class="c" x="732" y="779">CODE<tspan x="732" dy="4">THRESHOLD</tspan><tspan x="732" dy="4">NAME</tspan><tspan x="732" dy="4">DESCRIPTION</tspan><tspan x="732" dy="4">ADJUSTMENT</tspan></text>
<text class="y" x="757" y="779">NUMBER(2)<tspan x="757" dy="4">NUMBER(3)</tspan><tspan x="757" dy="4">NVARCHAR2(20)</tspan><tspan x="757" dy="4">NVARCHAR2(100)</tspan><tspan x="757" dy="4">NUMBER(2)</tspan></text>
<text class="c" x="732" y="801">DEED_RECORD_S_TYPE_PK (CODE)</text>
<text class="c" x="732" y="807">DEED_RECORD_S_TYPE_PK (CODE)</text>
</g>

<g id="t-message-type">
<rect class="t" x="902" y="634" width="61" height="31"/>
<path class="s" d="M902 639h61M902 653h61M902 659h61"/>
<text class="h" x="932" y="638">COOFARM.MESSAGE_TYPE</text>
<text class="c" x="907" y="643">CODE<tspan x="907" dy="4">NAME</tspan><tspan x="907" dy="4">DESCRIPTION</tspan></text>
<text class="y" x="932" y="643">NUMBER(2)<tspan x="932" dy="4">NVARCHAR2(20)</tspan><tspan x="932" dy="4">NVARCHAR2(100)</tspan></text>
<text class="c" x="907" y="657">MESSAGE_TYPE_PK (CODE)</text>
<text class="c" x="907" y="663">MESSAGE_TYPE_PK (CODE)</text>
</g>

<g id="t-message-state-type">
<rect class="t" x="922" y="667" width="60" height="32"/>
<path class="s" d="M922 672h60M922 686h60M922 692h60"/>
<text class="h" x="952" y="671">COOFARM.MESSAGE_STATE_TYPE</text>
<text class="c" x="927" y="676">CODE<tspan x="927" dy="4">NAME</tspan><tspan x="927" dy="4">DESCRIPTION</tspan></text>
<text class="y" x="952" y="676">NUMBER(2)<tspan x="952" dy="4">NVARCHAR2(20)</tspan><tspan x="952" dy="4">NVARCHAR2(100)</tspan></text>
<text class="c" x="927" y="690">MESSAGE_STATE_TYPE_PK (CODE)</text>
<text class="c" x="927" y="696">MESSAGE_STATE_TYPE_PK (CODE)</text>
</g>

<g id="t-message">
<rect class="t" x="901" y="714" width="106" height="84"/>
<path class="s" d="M901 719h106M901 757h106M901 767h106M901 785h106"/>
<text class="h" x="954" y="718">COOFARM.MESSAGE</text>
<text class="c" x="906" y="723">ID<tspan x="906" dy="4">SENDER_ID</tspan><tspan x="906" dy="4">RECEIVER_ID</tspan><tspan x="906" dy="4">TITLE</tspan><tspan x="906" dy="4">CONTENT</tspan><tspan x="906" dy="4">WRITTEN_TIME</tspan><tspan x="906" dy="4">IS_READ</tspan><tspan x="906" dy="4">READ_TIME</tspan><tspan x="906" dy="4">TYPE_CODE</tspan></text>
<text class="y" x="935" y="723">NUMBER(10)<tspan x="935" dy="4">NUMBER(8)</tspan><tspan x="935" dy="4">NUMBER(8)</tspan><tspan x="935" dy="4">NVARCHAR2(50)</tspan><tspan x="935" dy="4">NVARCHAR2(2000)</tspan><tspan x="935" dy="4">TIMESTAMP(6) WITH LOCAL TIME ZONE</tspan><tspan x="935" dy="4">NUMBER(1)</tspan><tspan x="935" dy="4">TIMESTAMP(6) WITH LOCAL TIME ZONE</tspan><tspan x="935" dy="4">NUMBER(2)</tspan></text>
<text class="c" x="906" y="761">MESSAGE_PK (ID)<tspan x="906" dy="4">MESSAGE_IDX (RECEIVER_ID)</tspan></text>
<text class="c" x="906" y="771">FK_MESSAGE_MSGTYPE (TYPE_CODE)<tspan x="906" dy="4">FK_MESSAGE_RECEIVER_ACCOUNT (RECEIVER_ID)</tspan><tspan x="906" dy="4">FK_MESSAGE_SENDER_ACCOUNT (SENDER_ID)</tspan><tspan x="906" dy="4">FK_MESSAGE_STATE (STATE)</tspan></text>
<text class="c" x="906" y="789">MESSAGE_PK (ID)<tspan x="906" dy="4">MESSAGE_RECEIVER_IDX (RECEIVER_ID, IS_READ)</tspan></text>
</g>

<g id="t-farmer-board-comment">
<rect class="t" x="1039" y="746" width="89" height="75"/>
<path class="s" d="M1039 751h89M1039 781h89M1039 791h89M1039 809h89"/>
<text class="h" x="1083" y="750">COOFARM.FARMER_BOARD_COMMENT</text>
<text class="c" x="1044" y="755">ID<tspan x="1044" dy="4">F_BOARD_ID</tspan><tspan x="1044" dy="4">WRITER_ID</tspan><tspan x="1044" dy="4">CONTENT</tspan><tspan x="1044" dy="4">WRITTEN_TIME</tspan><tspan x="1044" dy="4">LAST_EDITED</tspan><tspan x="1044" dy="4">HIDE</tspan></text>
<text class="y" x="1070" y="755">NUMBER(10)<tspan x="1070" dy="4">NUMBER(8)</tspan><tspan x="1070" dy="4">NUMBER(8)</tspan><tspan x="1070" dy="4">NVARCHAR2(300)</tspan><tspan x="1070" dy="4">DATE</tspan><tspan x="1070" dy="4">DATE</tspan><tspan x="1070" dy="4">NUMBER(1)</tspan></text>
<text class="c" x="1044" y="785">FBOARD_CMT_PK (ID)<tspan x="1044" dy="4">FBOARD_CMT_IDX (F_BOARD_ID, ID)</tspan></text>
<text class="c" x="1044" y="795">FK_FBOARD_CMT_ACC (WRITER_ID)<tspan x="1044" dy="4">FK_FBOARD_CMT_BOARD (F_BOARD_ID)</tspan><tspan x="1044" dy="4">FK_FBOARD_CMT_PARENT (PARENT_ID)</tspan><tspan x="1044" dy="4">FK_FBOARD_CMT_HIDE (HIDE)</tspan></text>
<text class="c" x="1044" y="813">FBOARD_CMT_PK (ID)</text>
</g>

<g id="t-main-auction">
<rect class="t" x="379" y="817" width="103" height="35"/>
<path class="s" d="M379 822h103M379 832h103M379 838h103M379 844h103"/>
<text class="h" x="430" y="821">COOFARM.MAIN_AUCTION</text>
<text class="c" x="384" y="826">AUCTION_ID<tspan x="384" dy="4">REG_TIME</tspan></text>
<text class="y" x="414" y="826">NUMBER(10)<tspan x="414" dy="4">TIMESTAMP(6) WITH LOCAL TIME ZONE</tspan></text>
<text class="c" x="384" y="836">MAIN_AUCTION_PK (AUCTION_ID)</text>
<text class="c" x="384" y="842">FK_MAIN_AUCTION_AUCTION (AUCTION_ID)</text>
<text class="c" x="384" y="848">MAIN_AUCTION_PK (AUCTION_ID)</text>
</g>

<g id="t-error-log">
<rect class="t" x="487" y="818" width="65" height="46"/>
<path class="s" d="M487 823h65M487 853h65"/>
<text class="h" x="519" y="822">COOFARM.ERROR_LOG</text>
<text class="c" x="492" y="827">NAME<tspan x="492" dy="4">TIME</tspan><tspan x="492" dy="4">RESOLUTION</tspan><tspan x="492" dy="4">CONTENT</tspan><tspan x="492" dy="4">ERR_CODE</tspan><tspan x="492" dy="4">ERR_MESSAGE</tspan><tspan x="492" dy="4">OTHER_INFO</tspan></text>
<text class="y" x="519" y="827">NVARCHAR2(50)<tspan x="519" dy="4">TIMESTAMP(6)</tspan><tspan x="519" dy="4">NVARCHAR2(20)</tspan><tspan x="519" dy="4">NVARCHAR2(500)</tspan><tspan x="519" dy="4">NUMBER(8)</tspan><tspan x="519" dy="4">NVARCHAR2(500)</tspan><tspan x="519" dy="4">NVARCHAR2(500)</tspan></text>
<text class="c" x="492" y="857">ERROR_LOG_IDX (NAME, TIME)<tspan x="492" dy="4">ERROR_LOG_TIME_IDX (TIME)</tspan></text>
</g>

<g id="t-log-acc-type">
<rect class="t" x="561" y="819" width="60" height="33"/>
<path class="s" d="M561 824h60M561 838h60M561 844h60"/>
<text class="h" x="591" y="823">COOFARM.LOG_ACC_TYPE</text>
<text class="c" x="566" y="828">CODE<tspan x="566" dy="4">NAME</tspan><tspan x="566" dy="4">DESCRIPTION</tspan></text>
<text class="y" x="590" y="828">NUMBER(2)<tspan x="590" dy="4">NVARCHAR2(20)</tspan><tspan x="590" dy="4">NVARCHAR2(100)</tspan></text>
<text class="c" x="566" y="842">LOG_ACC_TYPE_PK (CODE)</text>
<text class="c" x="566" y="848">LOG_ACC_TYPE_PK (CODE)</text>
</g>

<g id="t-log-acc-setting">
<rect class="t" x="560" y="867" width="70" height="42"/>
<path class="s" d="M560 872h70M560 886h70M560 896h70M560 902h70"/>
<text class="h" x="595" y="871">COOFARM.LOG_ACC_SETTING</text>
<text class="c" x="565" y="876">ID<tspan x="565" dy="4">TYPE_CODE</tspan><tspan x="565" dy="4">LOG_DESCRIPTION</tspan></text>
<text class="y" x="592" y="876">NUMBER(8)<tspan x="592" dy="4">NUMBER(2)</tspan><tspan x="592" dy="4">NVARCHAR2(500)</tspan></text>
<text class="c" x="565" y="890">LOG_ACC_SETTING_ID_UN (ID)<tspan x="565" dy="4">LOG_ACC_SETTING_PK (TYPE_CODE)</tspan></text>
<text class="c" x="565" y="900">LOG_ACC_TYPE_FK (TYPE_CODE)</text>
<text class="c" x="565" y="906">LOG_ACC_SETTING_PK (TYPE_CODE)</text>
</g>

<g id="t-notice">
<rect class="t" x="633" y="823" width="66" height="50"/>
<path class="s" d="M633 828h66M633 854h66M633 860h66M633 866h66"/>
<text class="h" x="666" y="827">COOFARM.NOTICE</text>
<text class="c" x="638" y="832">ID<tspan x="638" dy="4">WRITER_ID</tspan><tspan x="638" dy="4">TITLE</tspan><tspan x="638" dy="4">CONTENT</tspan><tspan x="638" dy="4">WRITTEN_DATE</tspan><tspan x="638" dy="4">LAST_EDITED</tspan></text>
<text class="y" x="662" y="832">NUMBER(8)<tspan x="662" dy="4">NUMBER(8)</tspan><tspan x="662" dy="4">NVARCHAR2(50)</tspan><tspan x="662" dy="4">NVARCHAR2(2000)</tspan><tspan x="662" dy="4">DATE</tspan><tspan x="662" dy="4">DATE</tspan></text>
<text class="c" x="638" y="858">NOTICE_PK (ID)</text>
<text class="c" x="638" y="864">FK_NOTICE_WRITER (WRITER_ID)</text>
<text class="c" x="638" y="870">NOTICE_PK (ID)</text>
</g>

<g id="t-farmer-board-pick">
<rect class="t" x="635" y="878" width="68" height="29"/>
<path class="s" d="M635 883h68M635 889h68M635 895h68M635 901h68"/>
<text class="h" x="669" y="882">COOFARM.FARMER_BOARD_PICK</text>
<text class="c" x="640" y="887">F_BOARD_ID</text>
<text class="y" x="668" y="887">NUMBER(8)</text>
<text class="c" x="640" y="893">FBOARD_PICK_PK (F_BOARD_ID)</text>
<text class="c" x="640" y="899">FK_FBOARD_PICK_BOARD (F_BOARD_ID)</text>
<text class="c" x="640" y="905">FBOARD_PICK_PK (F_BOARD_ID)</text>
</g>

<g id="t-farmer-board">
<rect class="t" x="991" y="838" width="95" height="92"/>
<path class="s" d="M991 843h95M991 877h95M991 883h95M991 893h95"/>
<text class="h" x="1038" y="842">COOFARM.FARMER_BOARD</text>
<text class="c" x="996" y="847">ACC_ID<tspan x="996" dy="4">TITLE</tspan><tspan x="996" dy="4">CONTENT</tspan><tspan x="996" dy="4">WRITTEN_DATE</tspan><tspan x="996" dy="4">HIT</tspan><tspan x="996" dy="4">LAST_EDITED</tspan><tspan x="996" dy="4">ID</tspan><tspan x="996" dy="4">HIDE</tspan></text>
<text class="y" x="1024" y="847">NUMBER(8)<tspan x="1024" dy="4">NVARCHAR2(50)</tspan><tspan x="1024" dy="4">NVARCHAR2(2000)</tspan><tspan x="1024" dy="4">DATE</tspan><tspan x="1024" dy="4">NUMBER(8)</tspan><tspan x="1024" dy="4">TIMESTAMP(6) WITH LOCAL TIME ZONE</tspan><tspan x="1024" dy="4">NUMBER(8)</tspan><tspan x="1024" dy="4">NUMBER(1)</tspan></text>
<text class="c" x="996" y="881">FBOARD_FARMER_PK (ACC_ID)</text>
<text class="c" x="996" y="887">FK_FBOARD_FARMER_ACC (ACC_ID)<tspan x="996" dy="4">FK_FBOARD_FARMER_HIDE (HIDE)</tspan></text>
<text class="c" x="996" y="897">FBOARD_FARMER_WRITTEN_IDX (WRITTEN_DATE)<tspan x="996" dy="4">FBOARD_FARMER_PK (ACC_ID)</tspan></text>
</g>

<g id="t-farmer-board-recommend">
<rect class="t" x="1114" y="862" width="114" height="37"/>
<path class="s" d="M1114 867h114M1114 877h114M1114 883h114M1114 893h114"/>
<text class="h" x="1171" y="866">COOFARM.FARMER_BOARD_RECOMMEND</text>
<text class="c" x="1119" y="871">RECOMMENDER_ID<tspan x="1119" dy="4">F_BOARD_ID</tspan></text>
<text class="y" x="1155" y="871">NUMBER(8)<tspan x="1155" dy="4">NUMBER(8)</tspan></text>
<text class="c" x="1119" y="881">FBOARD_RECOMMEND_PK (RECOMMENDER_ID, F_BOARD_ID)</text>
<text class="c" x="1119" y="887">FK_FBOARD_RECOMMEND_BOARD (F_BOARD_ID)<tspan x="1119" dy="4">FK_FBOARD_RECOMMEND_ACC (RECOMMENDER_ID)</tspan></text>
<text class="c" x="1119" y="897">FBOARD_RECOMMEND_PK (RECOMMENDER_ID, F_BOARD_ID)</text>
</g>

<g id="t-farmer-board-file">
<rect class="t" x="1116" y="903" width="76" height="42"/>
<path class="s" d="M1116 908h76M1116 926h76M1116 932h76M1116 938h76"/>
<text class="h" x="1154" y="907">COOFARM.FARMER_BOARD_FILE</text>
<text class="c" x="1121" y="912">F_BOARD_ID<tspan x="1121" dy="4">ORIGINAL_FILENAME</tspan><tspan x="1121" dy="4">STORED_FILENAME</tspan><tspan x="1121" dy="4">UPLOAD_DATE</tspan></text>
<text class="y" x="1153" y="912">NUMBER(8)<tspan x="1153" dy="4">VARCHAR2(200)</tspan><tspan x="1153" dy="4">VARCHAR2(200)</tspan><tspan x="1153" dy="4">DATE</tspan></text>
<text class="c" x="1121" y="930">FBOARD_FILE_PK (F_BOARD_ID)</text>
<text class="c" x="1121" y="936">FK_FBOARD_FILE_BOARD (F_BOARD_ID)</text>
<text class="c" x="1121" y="942">FBOARD_FILE_PK (F_BOARD_ID)</text>
</g>

<g id="annotations" fill="none" stroke-linejoin="round" stroke-linecap="round">
<path d="M498 76L414 703" stroke="#e8281e" stroke-width="3"/>
<rect x="201" y="105" width="166" height="92" stroke="#f7c11a" stroke-width="3"/>
<rect x="804" y="138" width="208" height="123" stroke="#f7c11a" stroke-width="3"/>
<rect x="1350" y="164" width="215" height="72" stroke="#f7c11a" stroke-width="3"/>
<path d="M583 190L585 404L668 414M661 393L663 592L1189 579L1185 282L807 262L792 178L583 190" stroke="#b5e41d" stroke-width="3"/>
<path d="M653 657L981 598L1029 811L727 848Z" stroke="#a03ca8" stroke-width="3"/>
<path d="M953 934L1026 749L1246 728L1248 934" stroke="#eeee00" stroke-width="3"/>
<path d="M329 793L708 810L727 937M337 793L407 937" stroke="#b87a50" stroke-width="3"/>
<path d="M1211 558L1338 224L1424 166M1211 558L1384 565L1589 703" stroke="#3a3ad0" stroke-width="2.5"/>
<rect x="991" y="661" width="140" height="42" fill="#fff" stroke="#a8489e" stroke-width="4"/>
</g>

<g id="labels" class="lab">
<text x="105" y="148" font-size="27.5" fill="#e8281e">경매</text>
<text x="1019" y="197" font-size="27" fill="#f2b11e">영수증</text>
<text x="1397" y="276" font-size="28" fill="#3050d0">판매</text>
<text x="1192" y="58" font-size="30" fill="#111">이쪽은 배송.</text>
<text x="1192" y="107" font-size="30" fill="#111">구현 안했으니 무시</text>
<text x="659" y="479" font-size="29" fill="#111">계정 정보</text>
<text x="1012" y="699" font-size="30" fill="#a040b0">메세지/벌점/페널티</text>
<text x="255" y="892" font-size="30" fill="#c28a62">사이트 관리/ 메인</text>
<text x="255" y="940" font-size="30" fill="#c28a62">페이지/ 배너 등</text>
<text x="1263" y="934" font-size="29.5" fill="#e4c800">오늘의 농부</text>
</g>

<g id="frame">
<rect x="0" y="0" width="2" height="950" fill="#2a2a2a"/>
<rect x="0" y="946" width="1650" height="4" fill="#2a2a2a"/>
</g>
</svg>
